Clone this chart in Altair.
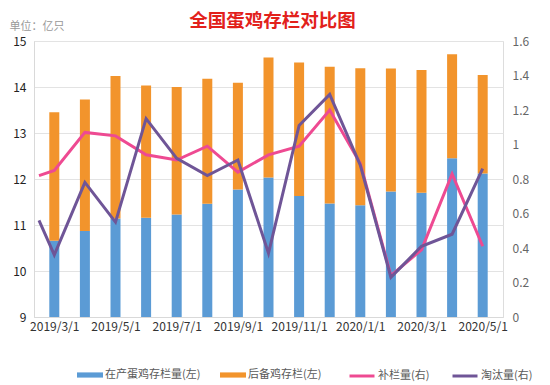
import altair as alt
import pandas as pd

# ---- data ----
months = ["2019/3/1", "2019/4/1", "2019/5/1", "2019/6/1", "2019/7/1", "2019/8/1",
          "2019/9/1", "2019/10/1", "2019/11/1", "2019/12/1", "2020/1/1", "2020/2/1",
          "2020/3/1", "2020/4/1", "2020/5/1"]
producing = [10.66, 10.87, 11.14, 11.16, 11.23, 11.46, 11.77, 12.03,
             11.63, 11.47, 11.43, 11.73, 11.70, 12.45, 12.12]
reserve = [2.79, 2.86, 3.10, 2.87, 2.77, 2.72, 2.32, 2.61,
           2.90, 2.97, 2.98, 2.67, 2.67, 2.26, 2.14]
# line series: first value sits at the left edge of the plot, then one per month
restock = [0.82, 0.85, 1.07, 1.05, 0.94, 0.91, 0.99, 0.84,
           0.94, 0.99, 1.20, 0.89, 0.24, 0.39, 0.83, 0.41]
cull = [0.56, 0.36, 0.78, 0.55, 1.15, 0.92, 0.82, 0.91,
        0.37, 1.11, 1.29, 0.88, 0.23, 0.41, 0.48, 0.86]

bar_names = ["在产蛋鸡存栏量(左)", "后备鸡存栏(左)"]
line_names = ["补栏量(右)", "淘汰量(右)"]

FONT = "Noto Sans CJK SC"
BLUE, ORANGE, PINK, PURPLE = "#5B9BD5", "#F2942C", "#EE4A92", "#6F5597"

bar_rows = []
for i, m in enumerate(months):
    bar_rows.append({"idx": i + 1, "month": m, "series": bar_names[0], "value": producing[i], "ord": 0})
    bar_rows.append({"idx": i + 1, "month": m, "series": bar_names[1], "value": reserve[i], "ord": 1})
bars_df = pd.DataFrame(bar_rows)

line_rows = []
line_idx = [0.5] + [i + 1 for i in range(len(months))]
for j, v in enumerate(restock):
    line_rows.append({"idx": line_idx[j], "series": line_names[0], "value": v})
for j, v in enumerate(cull):
    line_rows.append({"idx": line_idx[j], "series": line_names[1], "value": v})
lines_df = pd.DataFrame(line_rows)

xscale = alt.Scale(domain=[0.5, 15.5], nice=False, zero=False)
label_arr = "[" + ",".join("'%s'" % m for m in months) + "]"
xaxis = alt.Axis(values=[i + 1 for i in range(0, len(months), 2)],
                 labelExpr=label_arr + "[datum.value-1]",
                 title=None, grid=False, ticks=False, domain=True,
                 domainColor="#D9D9D9", labelColor="#333333", labelFont=FONT,
                 labelFontSize=12, labelPadding=4)

left_axis = alt.Axis(values=[9, 10, 11, 12, 13, 14, 15], title="单位：亿只",
                     titleAngle=0, titleAlign="left", titleBaseline="middle",
                     titleX=-25, titleY=-15, titleColor="#999999", titleFont=FONT,
                     titleFontSize=11, titleFontWeight="normal",
                     grid=True, gridColor="#E3E3E3", ticks=False, domain=True,
                     domainColor="#D9D9D9", labelColor="#222222", labelFont=FONT,
                     labelFontSize=12, labelPadding=8)

right_axis = alt.Axis(values=[0, 0.2, 0.4, 0.6, 0.8, 1.0, 1.2, 1.4, 1.6], format=".1~f",
                      orient="right", title=None, grid=False, ticks=False, domain=False,
                      domainColor="transparent", labelColor="#666666", labelFont=FONT,
                      labelFontSize=12, labelPadding=9)

bars = alt.Chart(bars_df).mark_bar(size=10, clip=True).encode(
    x=alt.X("idx:Q", scale=xscale, axis=xaxis),
    y=alt.Y("value:Q", stack="zero",
            scale=alt.Scale(domain=[9, 15], nice=False, zero=False), axis=left_axis),
    color=alt.Color("series:N",
                    scale=alt.Scale(domain=bar_names, range=[BLUE, ORANGE]),
                    legend=alt.Legend(orient="none", direction="horizontal", title=None,
                                      legendX=43, legendY=321,
                                      symbolType="M-1,-0.2H1V0.2H-1Z", symbolSize=676,
                                      symbolStrokeWidth=0, labelFont=FONT, labelFontSize=11,
                                      labelColor="#595959", labelOffset=2, columnPadding=19)),
    order=alt.Order("ord:Q"),
)

line_stroke = alt.Stroke("series:N",
                         scale=alt.Scale(domain=line_names, range=[PINK, PURPLE]),
                         legend=alt.Legend(orient="none", direction="horizontal", title=None,
                                           legendX=314, legendY=321,
                                           symbolType="stroke", symbolSize=625,
                                           symbolStrokeWidth=3, labelFont=FONT, labelFontSize=11,
                                           labelColor="#595959", labelOffset=2, columnPadding=16))

line_y = alt.Y("value:Q", scale=alt.Scale(domain=[0, 1.6], nice=False), axis=right_axis)

pink = alt.Chart(lines_df).transform_filter(
    alt.datum.series == line_names[0]).mark_line(strokeWidth=3, clip=True).encode(
    x=alt.X("idx:Q", scale=xscale, axis=xaxis), y=line_y, stroke=line_stroke)
purple = alt.Chart(lines_df).transform_filter(
    alt.datum.series == line_names[1]).mark_line(strokeWidth=3, clip=True).encode(
    x=alt.X("idx:Q", scale=xscale, axis=xaxis), y=line_y, stroke=line_stroke)

chart = alt.layer(bars, alt.layer(pink, purple)).resolve_scale(
    y="independent", color="independent"
).properties(
    width=469, height=276,
    autosize=alt.AutoSizeParams(type="none"),
    padding={"left": 26, "top": 33, "right": 39, "bottom": 66},
    title=alt.TitleParams("全国蛋鸡存栏对比图", font=FONT, fontSize=18.5, fontWeight="bold",
                          color="#E2211B", anchor="middle", offset=0, dy=10, dx=4),
).configure_view(stroke="transparent", strokeOpacity=0).configure_axis(
    domain=False, grid=False).configure(font=FONT)

chart.save("out.html", embed_options={"renderer": "svg", "actions": False})
